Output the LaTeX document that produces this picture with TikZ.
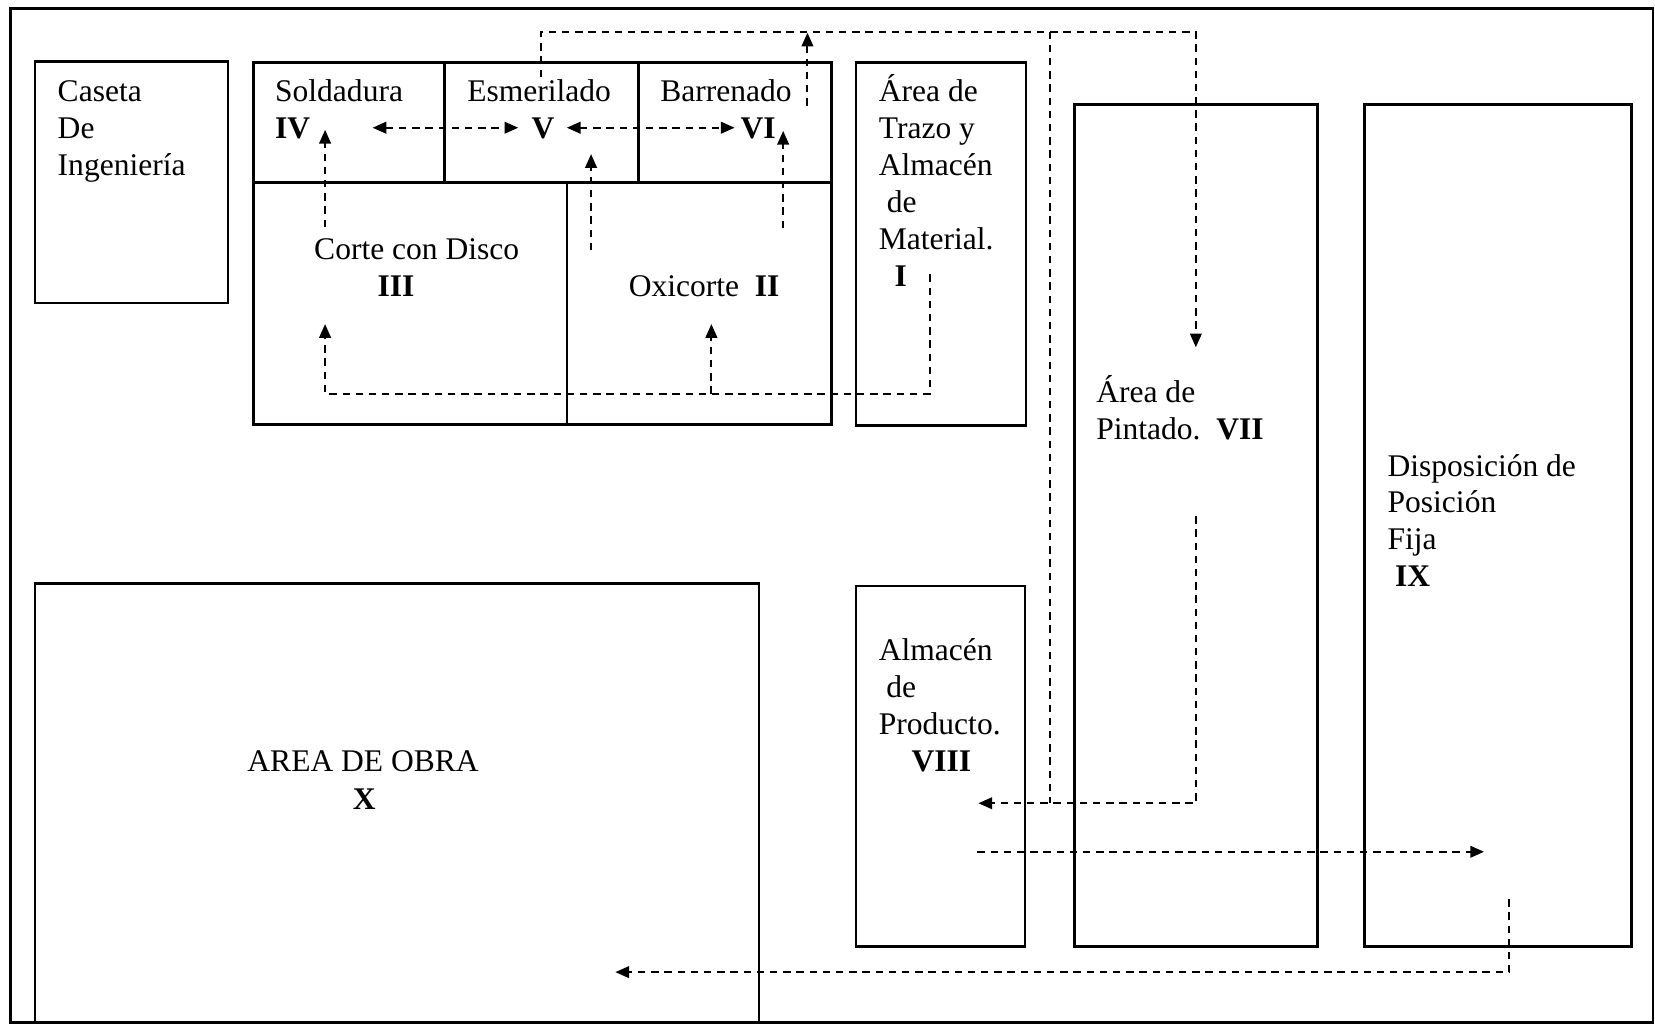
\documentclass[tikz,border=0pt]{standalone}
\usepackage{fontspec}
\setmainfont{Liberation Serif}
\usetikzlibrary{arrows.meta}

\begin{document}
\begin{tikzpicture}[x=0.1mm, y=-0.1mm,
  area/.style={draw, line width=0.7pt},
  link/.style={line width=0.55pt, dash pattern=on 0.7mm off 0.55mm},
  flow/.style={link, -{Triangle[length=1.3mm, width=1.1mm]}},
  twoway/.style={link, {Triangle[length=1.3mm, width=1.1mm]}-{Triangle[length=1.3mm, width=1.1mm]}},
  lbl/.style={anchor=base west, inner sep=0pt, align=left,
              font=\fontsize{8.5}{9.96}\selectfont},
  num/.style={lbl, font=\fontsize{8.5}{9.96}\selectfont\bfseries}]
  \useasboundingbox (0,0) rectangle (1568,971);

  % plant outline
  \draw[area] (10,8) rectangle (1566,969);

  % areas
  \draw[area] (33,58) rectangle (216,287);
  \draw[area] (240,59) rectangle (788,402);
  \draw[area] (240,173) -- (788,173);
  \draw[area] (421,59) -- (421,173);
  \draw[area] (605,59) -- (605,173);
  \draw[area] (537,173) -- (537,402);
  \draw[area] (811,59) rectangle (972,403);
  \draw[area] (1018,99) rectangle (1248,897);
  \draw[area] (1293,99) rectangle (1546,897);
  \draw[area] (811,555) rectangle (971,897);
  \draw[area] (33,553) rectangle (719,969);

  % labels (placed at the baseline of their last line)
  \node[lbl] (caseta) at (54,166) {Caseta\\De\\Ingeniería};
  \node[lbl] (soldadura) at (260,131) {Soldadura\\\textbf{IV}};
  \node[lbl] (esmerilado) at (442,96) {Esmerilado};
  \node[num] (V) at (503,131) {V};
  \node[lbl] (barrenado) at (625,96) {Barrenado};
  \node[num] (VI) at (701,131) {VI};
  \node[lbl] (corte) at (297,246) {Corte con Disco};
  \node[num] (III) at (357,281) {III};
  \node[lbl] (oxicorte) at (595,281) {Oxicorte\ \ \textbf{II}};
  \node[lbl] (trazo) at (832,271)
    {Área de\\Trazo y\\Almacén\\\hspace*{0.75mm}de\\Material.\\\hspace*{1.5mm}\textbf{I}};
  \node[lbl] (pintado) at (1038,416) {Área de\\Pintado.\ \ \textbf{VII}};
  \node[lbl] (fija) at (1314,556)
    {Disposición de\\Posición\\Fija\\\hspace*{0.7mm}\textbf{IX}};
  \node[lbl] (producto) at (832,731)
    {Almacén\\\hspace*{0.7mm}de\\Producto.\\\hspace*{3.1mm}\textbf{VIII}};
  \node[lbl, anchor=base] (obra) at (344,731) {AREA DE OBRA};
  \node[num, anchor=base] (X) at (345,767) {X};

  % flow ends
  \coordinate (fromI) at (881,260);
  \coordinate (toIII) at (308,307);
  \coordinate (toII) at (674,307);
  \coordinate (splitII) at (674,373);
  \coordinate (fromIII) at (308,215);
  \coordinate (toIV) at (308,123);
  \coordinate (endIV) at (353,121);
  \coordinate (endVl) at (491,121);
  \coordinate (endVr) at (537,121);
  \coordinate (endVI) at (696,121);
  \coordinate (fromIIa) at (560,237);
  \coordinate (toV) at (560,146);
  \coordinate (fromIIb) at (742,216);
  \coordinate (toVI) at (742,124);
  \coordinate (fromVI) at (765,100);
  \coordinate (toTop) at (765,31);
  \coordinate (fromV) at (513,73);
  \coordinate (topR) at (1133,30);
  \coordinate (toVII) at (1133,329);
  \coordinate (splitTop) at (995,30);
  \coordinate (joinVIII) at (995,761);
  \coordinate (fromVII) at (1133,489);
  \coordinate (toVIII) at (927,761);
  \coordinate (fromVIII) at (926,807);
  \coordinate (toIX) at (1406,807);
  \coordinate (fromIX) at (1430,852);
  \coordinate (toX) at (583,921);

  % flows
  \draw[flow] (fromI) |- (toIII |- splitII) -- (toIII);
  \draw[flow] (splitII) -- (toII);
  \draw[flow] (fromIII) -- (toIV);
  \draw[twoway] (endIV) -- (endVl);
  \draw[twoway] (endVr) -- (endVI);
  \draw[flow] (fromIIa) -- (toV);
  \draw[flow] (fromIIb) -- (toVI);
  \draw[flow] (fromVI) -- (toTop);
  \draw[flow] (fromV) |- (topR) -- (toVII);
  \draw[link] (splitTop) -- (joinVIII);
  \draw[flow] (fromVII) |- (toVIII);
  \draw[flow] (fromVIII) -- (toIX);
  \draw[flow] (fromIX) |- (toX);
\end{tikzpicture}
\end{document}
